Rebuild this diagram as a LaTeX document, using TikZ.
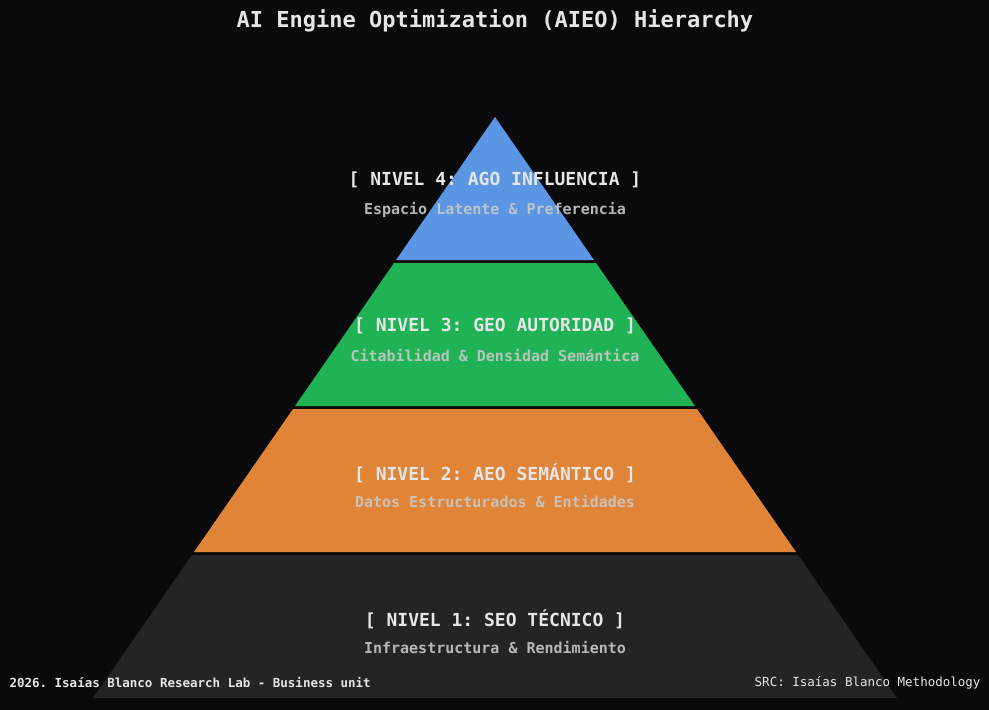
\documentclass[tikz,border=0pt]{standalone}
\usepackage{fontspec}
\setmonofont{DejaVu Sans Mono}
\definecolor{bg}{HTML}{0A0A0C}
\definecolor{c4}{HTML}{5A96E3}
\definecolor{c3}{HTML}{20B356}
\definecolor{c2}{HTML}{E08438}
\definecolor{c1}{HTML}{242426}
\definecolor{tx}{HTML}{E6E6E6}
\definecolor{sub}{HTML}{C8C8C8}
\begin{document}
\begin{tikzpicture}[x=1pt,y=-1pt,
 ttl/.style={font=\ttfamily\bfseries\fontsize{18}{21}\selectfont,text=tx},
 st/.style={font=\ttfamily\bfseries\fontsize{15}{17}\selectfont,text=sub,opacity=0.9},
 foot/.style={font=\ttfamily\fontsize{12.5}{14}\selectfont,text=tx}]
\fill[bg] (0,0) rectangle (989,710);
\useasboundingbox (0,0) rectangle (989,710);
\def\hw#1{0.6919*(#1-117)}
\fill[c4] (495,117) -- ({495+\hw{260}},260) -- ({495-\hw{260}},260) -- cycle;
\fill[c3] ({495-\hw{263}},263) -- ({495+\hw{263}},263) -- ({495+\hw{406}},406) -- ({495-\hw{406}},406) -- cycle;
\fill[c2] ({495-\hw{409}},409) -- ({495+\hw{409}},409) -- ({495+\hw{552}},552) -- ({495-\hw{552}},552) -- cycle;
\fill[c1] ({495-\hw{555}},555) -- ({495+\hw{555}},555) -- ({495+\hw{698}},698) -- ({495-\hw{698}},698) -- cycle;
\node[font=\ttfamily\bfseries\fontsize{22}{26}\selectfont,text=tx] (title) at (495,21) {AI Engine Optimization (AIEO) Hierarchy};
\node[ttl] (t4) at (495,180) {[ NIVEL 4: AGO INFLUENCIA ]};
\node[st] (s4) at (495,210) {Espacio Latente \& Preferencia};
\node[ttl] (t3) at (495,326) {[ NIVEL 3: GEO AUTORIDAD ]};
\node[st] (s3) at (495,356) {Citabilidad \& Densidad Semántica};
\node[ttl] (t2) at (495,473) {[ NIVEL 2: AEO SEMÁNTICO ]};
\node[st] (s2) at (495,502) {Datos Estructurados \& Entidades};
\node[ttl] (t1) at (495,619) {[ NIVEL 1: SEO TÉCNICO ]};
\node[st] (s1) at (495,648) {Infraestructura \& Rendimiento};
\node[foot,font=\ttfamily\bfseries\fontsize{12.5}{14}\selectfont,anchor=west] (fl) at (6,683) {2026. Isaías Blanco Research Lab - Business unit};
\node[foot,anchor=east] (fr) at (984,683) {SRC: Isaías Blanco Methodology};
\end{tikzpicture}
\end{document}
